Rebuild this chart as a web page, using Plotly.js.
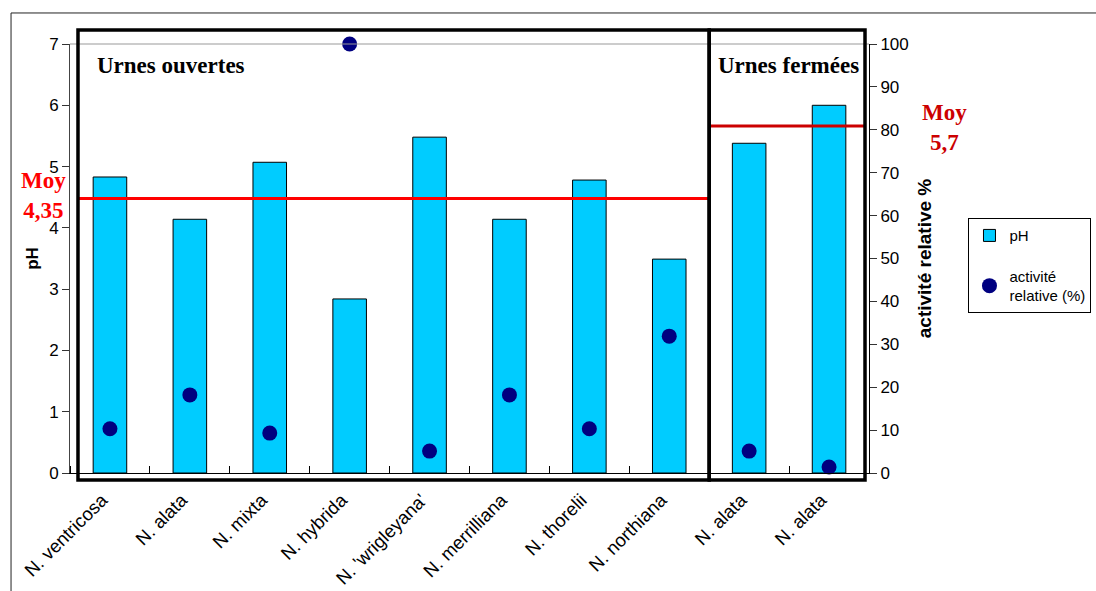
<!DOCTYPE html>
<html><head><meta charset="utf-8">
<script src="https://cdn.plot.ly/plotly-3.0.1.min.js"></script>
<style>body{margin:0;background:#fff}#c{width:1096px;height:591px}</style>
</head><body><div id="c"></div>
<script>
const species = ["N. ventricosa","N. alata","N. mixta","N. hybrida","N. 'wrigleyana'","N. merrilliana","N. thorelii","N. northiana","N. alata","N. alata"];
const phValues = [4.83, 4.14, 5.07, 2.84, 5.48, 4.14, 4.78, 3.49, 5.38, 6.0];
const activityValues = [10.3, 18.2, 9.3, 100, 5.1, 18.2, 10.3, 31.9, 5.1, 1.4];
const meanOpenLine = 4.48;   // drawn position of the "Moy 4,35" line
const meanClosedLine = 5.66; // drawn position of the "Moy 5,7" line
const xIdx = species.map((_, i) => i);

const ARIAL = "Liberation Sans, Arial, sans-serif";
const TIMES = "Liberation Serif, Times New Roman, serif";

const traces = [
  {type:"bar", x:xIdx, y:phValues, name:"pH", width:0.42,
   marker:{color:"#00CCFF", line:{color:"#000", width:1}}, legendgroup:"a"},
  {type:"scatter", mode:"markers", x:xIdx, y:activityValues, yaxis:"y2",
   name:"activité<br>relative (%)", cliponaxis:false,
   marker:{color:"#000080", size:15}, legendgroup:"b"}
];

const layout = {
  width:1096, height:591,
  margin:{l:70, r:227, t:44, b:118, autoexpand:false},
  paper_bgcolor:"#fff", plot_bgcolor:"#fff",
  showlegend:true,
  legend:{x:1.1245, xanchor:"left", y:0.594, yanchor:"top", bordercolor:"#000", borderwidth:1,
          itemwidth:30,
          font:{family:ARIAL, size:15, color:"#000"}, traceorder:"grouped", tracegroupgap:18},
  xaxis:{range:[-0.5,9.5], tickvals:xIdx, ticktext:species, tickangle:-45, ticks:"",
         tickfont:{family:ARIAL, size:18.5, color:"#000"}, showgrid:false, zeroline:false,
         ticklabelstandoff:8, ticklabelshift:-8,
         showline:true, linecolor:"#000", linewidth:1, automargin:false,
         minor:{tick0:0.5, dtick:1, ticks:"inside", ticklen:7, tickcolor:"#000", showgrid:false}},
  yaxis:{range:[0,7], dtick:1, ticks:"outside", ticklen:7, tickcolor:"#333", showgrid:false, zeroline:false,
         showline:true, linecolor:"#444", linewidth:1, automargin:false,
         tickfont:{family:ARIAL, size:17, color:"#000"},
         title:{text:"<b>pH</b>", font:{family:ARIAL, size:17, color:"#000"}, standoff:6}},
  yaxis2:{range:[0,100], dtick:10, overlaying:"y", side:"right", ticks:"outside", ticklen:7, tickcolor:"#333",
          showgrid:false, zeroline:false, showline:true, linecolor:"#000", linewidth:1, automargin:false,
          tickfont:{family:ARIAL, size:17, color:"#000"},
          title:{text:"<b>activité relative %</b>", font:{family:ARIAL, size:19, color:"#000"}, standoff:9}},
  shapes:[
    // outer frame
    {type:"rect", xref:"paper", yref:"paper", x0:-0.0738, x1:1.3, y0:-0.3, y1:1.0723, line:{color:"#222", width:1}, layer:"below"},
    // top plot border
    {type:"line", xref:"paper", yref:"paper", x0:0, x1:1, y0:1, y1:1, line:{color:"#999", width:1}},
    // mean lines
    {type:"line", xref:"paper", yref:"y", x0:0.01, x1:0.8, y0:meanOpenLine, y1:meanOpenLine, line:{color:"#FF0000", width:3}},
    {type:"line", xref:"paper", yref:"y", x0:0.8, x1:0.995, y0:meanClosedLine, y1:meanClosedLine, line:{color:"#CC0000", width:3}},
    // group boxes
    {type:"rect", xref:"paper", yref:"paper", x0:0.01, x1:0.8, y0:-0.0163, y1:1.0326, line:{color:"#000", width:3.5}},
    {type:"rect", xref:"paper", yref:"paper", x0:0.8, x1:0.995, y0:-0.0163, y1:1.0326, line:{color:"#000", width:3.5}}
  ],
  annotations:[
    {xref:"paper", yref:"paper", x:0.031, y:0.95, xanchor:"left", yanchor:"middle", showarrow:false,
     text:"<b>Urnes ouvertes</b>", font:{family:TIMES, size:23, color:"#000"}},
    {xref:"paper", yref:"paper", x:0.99, y:0.95, xanchor:"right", yanchor:"middle", showarrow:false,
     text:"<b>Urnes fermées</b>", font:{family:TIMES, size:23, color:"#000"}},
    {xref:"paper", yref:"paper", x:-0.0326, y:0.648, xanchor:"center", yanchor:"middle", showarrow:false,
     text:"<b>Moy<br>4,35</b>", font:{family:TIMES, size:23, color:"#FF0000"}},
    {xref:"paper", yref:"paper", x:1.095, y:0.8065, xanchor:"center", yanchor:"middle", showarrow:false,
     text:"<b>Moy<br>5,7</b>", font:{family:TIMES, size:23, color:"#CC0000"}}
  ]
};

Plotly.newPlot("c", traces, layout, {displayModeBar:false, staticPlot:true});
</script>
</body></html>
